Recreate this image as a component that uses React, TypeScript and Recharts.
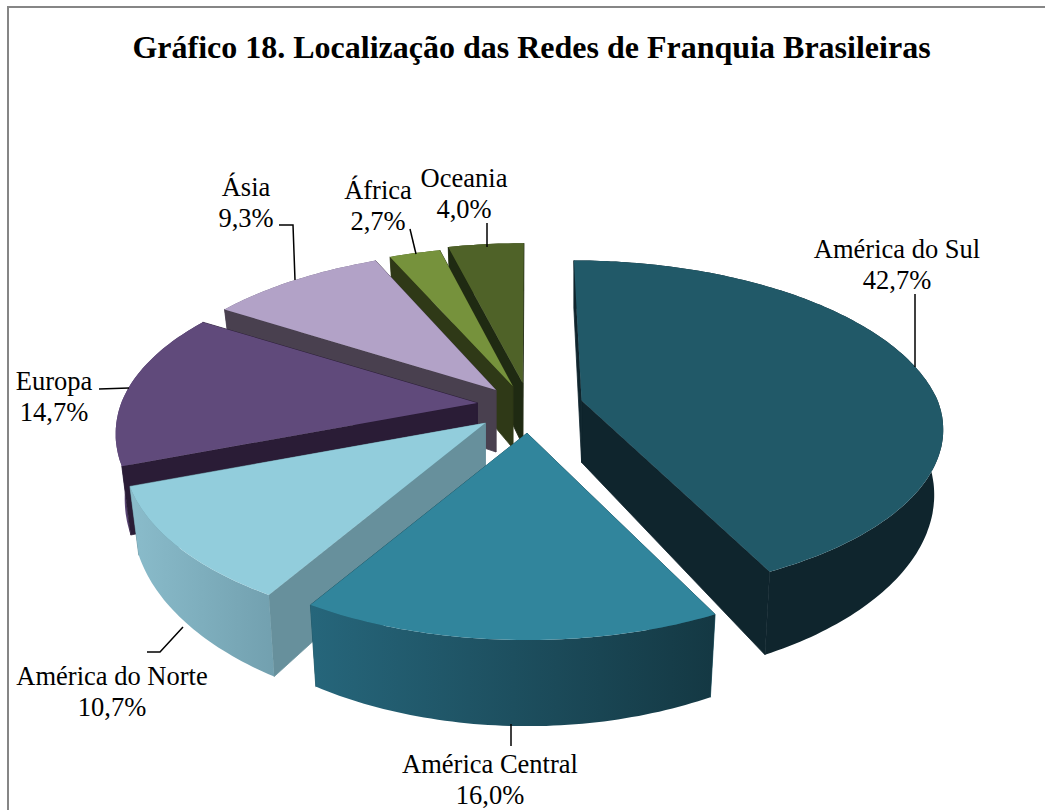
import { PieChart, Pie } from 'recharts'

const continents = ['Oceania', 'África', 'Ásia', 'Europa', 'América do Norte', 'América Central', 'América do Sul']
const shares = [4.0, 2.7, 9.3, 14.7, 10.7, 16.0, 42.7]

const rows = continents.map((name, i) => ({ name, value: shares[i] }))

// 3D look: top face, radial walls, rim wall (left and right of the rim gradient)
const looks: Record<string, any> = {
  'Oceania': { top: '#4f6228', wall: '#1f2a12', rim: ['#3a4a1c', '#3a4a1c'], pull: 58 },
  'África': { top: '#76923c', wall: '#2f3917', rim: ['#4a5c26', '#4a5c26'], pull: 52 },
  'Ásia': { top: '#b2a2c7', wall: '#49404f', rim: ['#6f6580', '#6f6580'], pull: 52 },
  'Europa': { top: '#604a7b', wall: '#2a1c36', rim: ['#5a4574', '#4a3860'], pull: 53 },
  'América do Norte': { top: '#92cddc', wall: '#67909c', rim: ['#8abccb', '#72a0af'], pull: 58, sag: 4 },
  'América Central': { top: '#31859c', wall: '#1f5564', rim: ['#26667b', '#143843'], pull: 74 },
  'América do Sul': { top: '#215968', wall: '#0f252d', rim: ['#0f252d', '#0f252d'], pull: 53, squash: 0.945 },
}

const labelSpots: Record<string, any> = {
  'Oceania': { x: 464, y: 187, lead: '487,223 487,247' },
  'África': { x: 378, y: 199, lead: '410,229 416,254' },
  'Ásia': { x: 246, y: 196, lead: '279,225 293,225 295,280' },
  'Europa': { x: 54, y: 390, lead: '99,389 129,388' },
  'América do Norte': { x: 112, y: 685, lead: '147,652 160,652 183,627' },
  'América Central': { x: 490, y: 773, lead: '511,724 511,746' },
  'América do Sul': { x: 897, y: 258, lead: '915,294 915,367' },
}

const TILT = 170.5
const BACK_TILT = 0.965
const PERSP = 0.176
const DEPTH = 62
const SHRINK = 0.975
const RAD = Math.PI / 180

function Slice3D(props: any) {
  const { cx, cy, outerRadius, startAngle, endAngle, midAngle, name, index } = props
  const look = looks[name]
  const mid = (90 - midAngle) * RAD
  const midY = -Math.cos(mid)
  const dx = look.pull * Math.sin(mid)
  const dy = look.pull * midY * 0.38 + (look.sag || 0)

  const project = (deg: number, r: number, floor: boolean) => {
    const t = (90 - deg) * RAD
    const X = Math.sin(t) * r
    const Y = -Math.cos(t) * r
    const s = 1 / (1 - PERSP * Y)
    const k = floor ? SHRINK : 1
    const lean = dx > 0 || midY < -0.3 ? Math.min(s, 1) : 1
    const tilt = Y < 0 ? TILT * BACK_TILT : TILT * (look.squash || 1)
    const px = cx + dx * lean + X * outerRadius * s * k
    const py = cy + dy + tilt * Y * s * k + (floor ? DEPTH * s * s : 0)
    return `${px.toFixed(1)},${py.toFixed(1)}`
  }

  const lo = Math.min(startAngle, endAngle)
  const hi = Math.max(startAngle, endAngle)
  const steps = Math.max(2, Math.ceil(hi - lo))
  const degs: number[] = []
  for (let i = 0; i <= steps; i++) degs.push(lo + ((hi - lo) * i) / steps)

  const topRim = degs.map((d) => project(d, 1, false))
  const floorRim = degs.map((d) => project(d, 1, true))
  const apex = project(lo, 0, false)
  const apexFloor = project(lo, 0, true)
  const gradId = `rim-${index}`

  const walls = (
    <>
      <polygon points={[apex, topRim[0], floorRim[0], apexFloor].join(' ')} fill={look.wall} stroke={look.wall} strokeWidth={0.8} />
      <polygon points={[apex, topRim[steps], floorRim[steps], apexFloor].join(' ')} fill={look.wall} stroke={look.wall} strokeWidth={0.8} />
    </>
  )
  const rim = <polygon points={[...topRim, ...[...floorRim].reverse()].join(' ')} fill={`url(#${gradId})`} />

  return (
    <g>
      <defs>
        <linearGradient id={gradId} x1="0" y1="0" x2="1" y2="0">
          <stop offset="0%" stopColor={look.rim[0]} />
          <stop offset="100%" stopColor={look.rim[1]} />
        </linearGradient>
      </defs>
      {/* slices at the back show their cut walls, slices in front show the rim */}
      {midY < 0 ? rim : walls}
      {midY < 0 ? walls : rim}
      <polygon points={[apex, ...topRim].join(' ')} fill={look.top} />
    </g>
  )
}

const renderLabel = (props: any) => {
  const spot = labelSpots[props.name]
  const pct = `${props.value.toFixed(1).replace('.', ',')}%`
  return (
    <g key={props.name}>
      <polyline points={spot.lead} fill="none" stroke="#000" strokeWidth={1.5} />
      <text x={spot.x} y={spot.y} textAnchor="middle" fontFamily="Liberation Serif" fontSize={26.5} fill="#000">
        {props.name}
      </text>
      <text x={spot.x} y={spot.y + 31} textAnchor="middle" fontFamily="Liberation Serif" fontSize={26.5} fill="#000">
        {pct}
      </text>
    </g>
  )
}

export default function App() {
  return (
    <div style={{ position: 'absolute', left: 0, top: 0, width: 1045, height: 810, overflow: 'hidden', background: '#fff' }}>
      <div
        style={{
          position: 'absolute',
          left: 7,
          top: 6,
          width: 1045,
          height: 820,
          borderTop: '2px solid #868686',
          borderLeft: '2px solid #868686',
        }}
      />
      <div
        style={{
          position: 'absolute',
          left: 0,
          top: 29,
          width: 1063,
          textAlign: 'center',
          fontFamily: 'Liberation Serif',
          fontWeight: 'bold',
          fontSize: 32,
          color: '#000',
        }}
      >
        Gráfico 18. Localização das Redes de Franquia Brasileiras
      </div>
      <div style={{ position: 'absolute', left: 0, top: 0 }}>
        <PieChart width={1045} height={810} margin={{ top: 0, right: 0, bottom: 0, left: 0 }}>
          <Pie
            data={rows}
            dataKey="value"
            nameKey="name"
            cx={530}
            cy={405}
            outerRadius={356}
            startAngle={90}
            endAngle={450}
            shape={Slice3D}
            label={renderLabel}
            labelLine={false}
            stroke="none"
            isAnimationActive={false}
          />
        </PieChart>
      </div>
    </div>
  )
}
